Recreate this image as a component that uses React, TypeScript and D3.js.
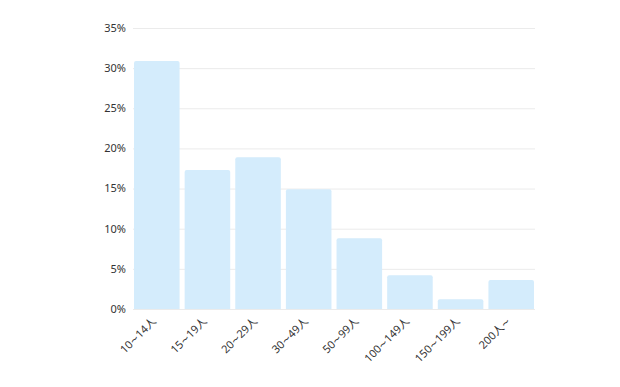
import React, { useEffect, useRef } from 'react';
import * as d3 from 'd3';

const categories = ['10~14人', '15~19人', '20~29人', '30~49人', '50~99人', '100~149人', '150~199人', '200人~'];
const values = [30.9, 17.3, 18.9, 14.9, 8.8, 4.2, 1.2, 3.6];
const yTicks = [0, 5, 10, 15, 20, 25, 30, 35];

const width = 620;
const height = 387;
const margin = { top: 28, right: 85, bottom: 78, left: 133 };

const App: React.FC = () => {
  const svgRef = useRef<SVGSVGElement>(null);

  useEffect(() => {
    if (!svgRef.current) return;
    const svg = d3.select(svgRef.current);
    svg.selectAll('*').remove();

    const x = d3.scaleBand<string>()
      .domain(categories)
      .range([margin.left, width - margin.right])
      .paddingInner(0.1)
      .paddingOuter(0.02);

    const y = d3.scaleLinear()
      .domain([0, 35])
      .range([height - margin.bottom, margin.top]);

    // grid lines
    svg.append('g')
      .selectAll('line')
      .data(yTicks)
      .join('line')
      .attr('x1', margin.left)
      .attr('x2', width - margin.right)
      .attr('y1', d => y(d) + 0.5)
      .attr('y2', d => y(d) + 0.5)
      .attr('stroke', '#ebebeb')
      .attr('stroke-width', 1);

    // y labels
    svg.append('g')
      .selectAll('text')
      .data(yTicks)
      .join('text')
      .attr('x', margin.left - 7)
      .attr('y', d => y(d))
      .attr('dy', '0.35em')
      .attr('text-anchor', 'end')
      .attr('fill', '#333')
      .style('font-size', '11px')
      .text(d => `${d}%`);

    // bars with small rounded tops
    const r = 2;
    svg.append('g')
      .selectAll('path')
      .data(values)
      .join('path')
      .attr('fill', '#d4ecfc')
      .attr('d', (d, i) => {
        const x0 = x(categories[i])!;
        const w = x.bandwidth();
        const y0 = y(d);
        const yb = y(0);
        return `M${x0},${yb}V${y0 + r}Q${x0},${y0} ${x0 + r},${y0}H${x0 + w - r}Q${x0 + w},${y0} ${x0 + w},${y0 + r}V${yb}Z`;
      });

    // x labels (tilde drawn in DejaVu for a wider wave, like the original)
    const labels = svg.append('g')
      .selectAll('text')
      .data(categories)
      .join('text')
      .attr('transform', d => `translate(${x(d)! + x.bandwidth() / 2},${y(0) + 13}) rotate(-45)`)
      .attr('text-anchor', 'end')
      .attr('fill', '#333')
      .style('font-size', '11px');

    labels.each(function (d) {
      const t = d3.select(this);
      d.split(/(~)/).filter(s => s.length).forEach(part => {
        const span = t.append('tspan').text(part);
        if (part === '~') span.style('font-family', '"DejaVu Sans", sans-serif');
      });
    });
  }, []);

  return (
    <svg
      ref={svgRef}
      width={width}
      height={height}
      style={{ display: 'block', margin: '-8px', fontFamily: '"Noto Sans", "Noto Sans CJK JP", sans-serif', background: '#fff' }}
    />
  );
};

export default App;
